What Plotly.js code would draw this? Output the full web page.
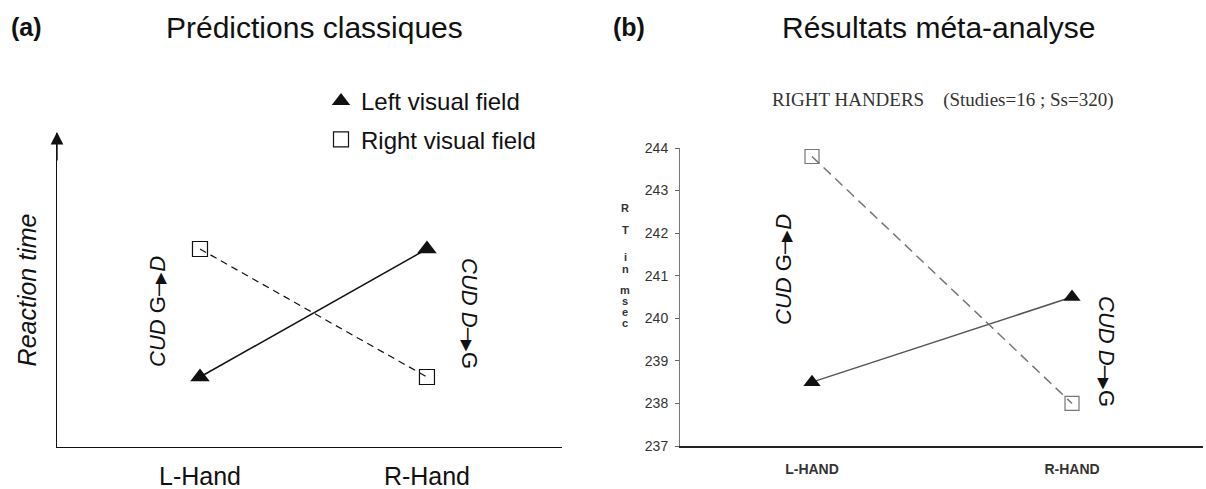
<!DOCTYPE html>
<html><head><meta charset="utf-8">
<script src="https://cdn.plot.ly/plotly-3.0.1.min.js"></script>
<style>html,body{margin:0;padding:0;background:#fff}</style>
</head><body><div id="chart" style="width:1206px;height:489px"></div>
<script>
// ---- data ----
const handsA = ['L-Hand', 'R-Hand'];
const leftFieldA = [1, 3];      // predicted (relative units)
const rightFieldA = [3, 1];
const handsB = ['L-HAND', 'R-HAND'];
const leftFieldB = [238.5, 240.5];   // RT in msec
const rightFieldB = [243.8, 238.0];
const rtTicksB = [237, 238, 239, 240, 241, 242, 243, 244];
const rtLetters = ['R', 'T', 'i', 'n', 'm', 's', 'e', 'c'];
const legendNames = ['Left visual field', 'Right visual field'];

// ---- layout helpers ----
const W = 1206, H = 489;
const px = x => x / W;
const py = y => 1 - y / H;
const SANS = 'Liberation Sans, Arial, sans-serif';
const letterPix = [208, 230, 257, 269, 290, 301, 312, 323];
const ARROW = '–<span style="font-size:15px">▶</span>';

const traces = [
  // panel a lines
  {x: handsA, y: leftFieldA, xaxis: 'x', yaxis: 'y', mode: 'lines', showlegend: false,
   line: {color: '#111', width: 1.5}, hoverinfo: 'skip'},
  {x: handsA, y: rightFieldA, xaxis: 'x', yaxis: 'y', mode: 'lines', showlegend: false,
   line: {color: '#111', width: 1.2, dash: '7px,5px'}, hoverinfo: 'skip'},
  // panel a markers (legend)
  {x: handsA, y: leftFieldA, xaxis: 'x', yaxis: 'y', mode: 'markers', name: legendNames[0],
   legendgroup: 'g1', marker: {symbol: 'triangle-up', size: 17, color: '#111'}},
  {x: handsA, y: rightFieldA, xaxis: 'x', yaxis: 'y', mode: 'markers', name: legendNames[1],
   legendgroup: 'g2', marker: {symbol: 'square-open', size: 15, color: '#111', line: {width: 1.2}}},
  // panel b
  {x: handsB, y: leftFieldB, xaxis: 'x2', yaxis: 'y2', mode: 'lines+markers', showlegend: false,
   line: {color: '#555', width: 1.5}, marker: {symbol: 'triangle-up', size: 15, color: '#111'}},
  {x: handsB, y: rightFieldB, xaxis: 'x2', yaxis: 'y2', mode: 'lines+markers', showlegend: false,
   line: {color: '#777', width: 1.5, dash: '10px,6px'},
   marker: {symbol: 'square-open', size: 14, color: '#777', line: {width: 1.2}}}
];

function label(text, x, y, size, extra) {
  return Object.assign({text: text, x: px(x), y: py(y), xref: 'paper', yref: 'paper',
    xanchor: 'center', yanchor: 'middle', showarrow: false,
    font: {family: SANS, size: size, color: '#111'}}, extra || {});
}

const annotations = [
  label('<b>(a)</b>', 26, 27, 25),
  label('Prédictions classiques', 314, 27, 30),
  label('<b>(b)</b>', 629, 27, 25),
  label('Résultats méta-analyse', 938, 27, 30),
  label('RIGHT HANDERS &nbsp;&nbsp;&nbsp;(Studies=16 ; Ss=320)', 942, 100, 19,
        {font: {family: 'Liberation Serif, Times New Roman, serif', size: 19, color: '#333'}}),
  label('<i>CUD</i> G' + ARROW + '<i>D</i>', 157, 312, 22, {textangle: -90}),
  label('<i>CUD D</i>' + ARROW + 'G', 470, 313, 22, {textangle: 90}),
  label('<i>CUD</i> G' + ARROW + '<i>D</i>', 783, 270, 22, {textangle: -90}),
  label('<i>CUD D</i>' + ARROW + 'G', 1107, 351, 22, {textangle: 90}),
  // y-axis arrow for panel a
  {text: '', x: px(57), y: py(132), xref: 'paper', yref: 'paper', showarrow: true,
   ax: 0, ay: 30, arrowhead: 2, arrowsize: 1.8, arrowwidth: 1.4, arrowcolor: '#111'}
];
rtLetters.forEach((l, i) => annotations.push(
  label('<b>' + l + '</b>', 625, letterPix[i], 11, {font: {family: SANS, size: 11, color: '#333'}})
));

const layout = {
  width: W, height: H, autosize: false,
  margin: {l: 0, r: 0, t: 0, b: 0},
  paper_bgcolor: '#fff', plot_bgcolor: 'rgba(0,0,0,0)',
  showlegend: true,
  legend: {x: px(321), y: py(79), xanchor: 'left', yanchor: 'top', bgcolor: 'rgba(0,0,0,0)',
           font: {family: SANS, size: 24, color: '#111'}, traceorder: 'grouped', tracegroupgap: 4},
  xaxis: {domain: [px(57), px(562)], type: 'category', range: [-0.63, 1.595],
          showline: true, linecolor: '#111', linewidth: 1.4, showgrid: false, zeroline: false,
          ticks: '', ticklabelstandoff: 7, tickfont: {family: SANS, size: 25, color: '#111'},
          anchor: 'y', fixedrange: true},
  yaxis: {domain: [py(447), py(133)], range: [-0.094, 4.8125], showline: true, linecolor: '#111',
          linewidth: 1.4, showgrid: false, zeroline: false, showticklabels: false, ticks: '',
          anchor: 'x', fixedrange: true,
          title: {text: '<i>Reaction time</i>', standoff: 12, font: {family: SANS, size: 25, color: '#111'}}},
  xaxis2: {domain: [px(680), px(1203)], type: 'category', range: [-0.5077, 1.5038],
           showline: true, linecolor: '#222', linewidth: 1.5, showgrid: false, zeroline: false,
           ticks: '', ticklabelstandoff: 10, tickfont: {family: SANS, size: 14, color: '#333', weight: 'bold'},
           anchor: 'y2', fixedrange: true},
  yaxis2: {domain: [py(446), py(148)], range: [237, 244], tickmode: 'array', tickvals: rtTicksB,
           showline: true, linecolor: '#777', linewidth: 1, showgrid: false, zeroline: false,
           ticks: 'outside', ticklen: 4, tickcolor: '#666', tickwidth: 1, ticklabelstandoff: 4,
           tickfont: {family: SANS, size: 14, color: '#333'}, anchor: 'x2', fixedrange: true},
  annotations: annotations
};

Plotly.newPlot('chart', traces, layout, {displayModeBar: false, staticPlot: true});
</script></body></html>
